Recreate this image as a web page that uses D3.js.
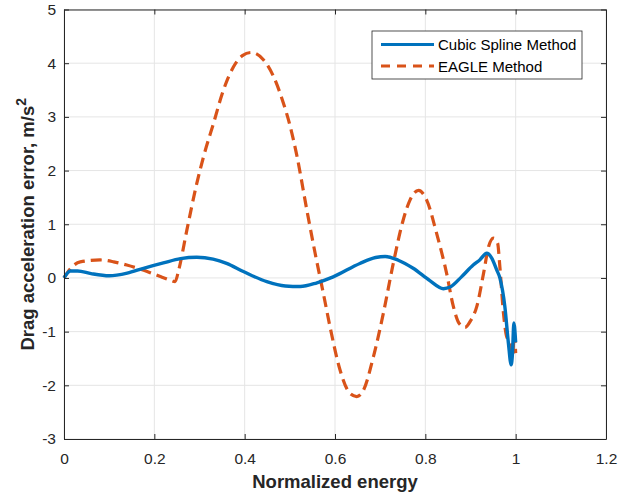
<!DOCTYPE html>
<html>
<head>
<meta charset="utf-8">
<script src="https://cdn.jsdelivr.net/npm/d3@7"></script>
<style>
  body { margin: 0; background: #fff; }
  svg { font-family: "Liberation Sans", Arial, Helvetica, sans-serif; }
</style>
</head>
<body>
<div id="chart"></div>
<script>
'use strict';

const w = 618;
const h = 500;

// Cubic spline method
const splineX = [0, 0.014, 0.03, 0.06, 0.10, 0.14, 0.176, 0.22, 0.258, 0.294, 0.33, 0.36, 0.397, 0.449, 0.49, 0.523,
  0.56, 0.596, 0.655, 0.69, 0.711, 0.74, 0.773, 0.81, 0.84, 0.855, 0.88, 0.906, 0.921, 0.936, 0.947, 0.958, 0.965,
  0.976, 0.984, 0.99, 0.993, 0.996, 1.0];
const splineY = [0, 0.13, 0.13, 0.08, 0.04, 0.09, 0.18, 0.28, 0.36, 0.385, 0.35, 0.27, 0.12, -0.07, -0.15, -0.16,
  -0.09, 0.02, 0.27, 0.38, 0.40, 0.33, 0.18, -0.05, -0.20, -0.17, 0.02, 0.24, 0.34, 0.46, 0.37, 0.15, 0,
  -0.53, -1.22, -1.62, -1.4, -0.84, -1.2];

// EAGLE method
const eagleX = [0, 0.015, 0.036, 0.08, 0.11, 0.139, 0.184, 0.215, 0.235, 0.246, 0.254, 0.272, 0.294, 0.309, 0.331,
  0.353, 0.375, 0.395, 0.415, 0.442, 0.464, 0.486, 0.5, 0.515, 0.538, 0.556, 0.574, 0.589, 0.611, 0.633, 0.648,
  0.663, 0.685, 0.707, 0.729, 0.751, 0.766, 0.785, 0.803, 0.825, 0.847, 0.862, 0.875, 0.888, 0.9, 0.914, 0.929,
  0.94, 0.951, 0.96, 0.965, 0.973, 0.98, 0.989, 0.993, 0.997, 1.0];
const eagleY = [0, 0.18, 0.30, 0.335, 0.30, 0.24, 0.12, 0.02, -0.04, -0.07, 0.15, 0.89, 1.76, 2.26, 2.88,
  3.5, 3.93, 4.14, 4.2, 4.06, 3.75, 3.25, 2.85, 2.3, 1.25, 0.46, -0.28, -0.91, -1.71, -2.15, -2.21,
  -2.09, -1.47, -0.66, 0.27, 1.08, 1.45, 1.63, 1.45, 0.83, 0.09, -0.53, -0.85, -0.92, -0.8, -0.53, 0.09,
  0.58, 0.74, 0.65, 0.21, -0.66, -1.09, -1.22, -1.47, -1.05, -1.4];

const xTicks = [0, 0.2, 0.4, 0.6, 0.8, 1, 1.2];
const yTicks = [-3, -2, -1, 0, 1, 2, 3, 4, 5];
const seriesNames = ["Cubic Spline Method", "EAGLE Method"];

const margin = { left: 64, right: 12, top: 9.5, bottom: 61 };
const axisColor = "#262626";

const svg = d3.select("#chart").append("svg")
  .attr("width", w)
  .attr("height", h);

const x = d3.scaleLinear().domain([0, 1.2]).range([margin.left, w - margin.right]);
const y = d3.scaleLinear().domain([-3, 5]).range([h - margin.bottom, margin.top]);

//Grid lines
const grid = svg.append("g").attr("stroke", "#e5e5e5").attr("stroke-width", 1);
grid.selectAll("line.vx").data(xTicks).enter().append("line")
  .attr("x1", d => x(d)).attr("x2", d => x(d))
  .attr("y1", y(-3)).attr("y2", y(5));
grid.selectAll("line.hy").data(yTicks).enter().append("line")
  .attr("x1", x(0)).attr("x2", x(1.2))
  .attr("y1", d => y(d)).attr("y2", d => y(d));

//Lines
const line = d3.line().x(d => x(d[0])).y(d => y(d[1])).curve(d3.curveMonotoneX);
const splineData = splineX.map((v, i) => [v, splineY[i]]);
const eagleData = eagleX.map((v, i) => [v, eagleY[i]]);

svg.append("path").datum(eagleData)
  .attr("d", line)
  .attr("fill", "none")
  .attr("stroke", "#D95319")
  .attr("stroke-width", 3.2)
  .attr("stroke-dasharray", "11,6");

svg.append("path").datum(splineData)
  .attr("d", line)
  .attr("fill", "none")
  .attr("stroke", "#0072BD")
  .attr("stroke-width", 3.4);

//Axes, ticks inward on all four sides; plain hyphen for negatives like the original
const fmt = d => String(d);
const axBottom = svg.append("g").attr("transform", `translate(0,${y(-3)})`)
  .call(d3.axisBottom(x).tickValues(xTicks).tickSizeInner(-5).tickSizeOuter(0).tickPadding(14).tickFormat(fmt));
const axLeft = svg.append("g").attr("transform", `translate(${x(0)},0)`)
  .call(d3.axisLeft(y).tickValues(yTicks).tickSizeInner(-5).tickSizeOuter(0).tickPadding(8).tickFormat(fmt));
const axTop = svg.append("g").attr("transform", `translate(0,${y(5)})`)
  .call(d3.axisTop(x).tickValues(xTicks).tickSizeInner(-5).tickSizeOuter(0).tickFormat(""));
const axRight = svg.append("g").attr("transform", `translate(${x(1.2)},0)`)
  .call(d3.axisRight(y).tickValues(yTicks).tickSizeInner(-5).tickSizeOuter(0).tickFormat(""));

[axBottom, axLeft, axTop, axRight].forEach(g => {
  g.select(".domain").attr("stroke", axisColor).attr("stroke-width", 1);
  g.selectAll(".tick line").attr("stroke", axisColor);
  g.selectAll(".tick text").attr("fill", axisColor).style("font-size", "15.5px")
    .style("font-family", '"Liberation Sans", Arial, sans-serif');
});

//Axis labels
svg.append("text")
  .attr("x", (x(0) + x(1.2)) / 2)
  .attr("y", 488)
  .attr("text-anchor", "middle")
  .attr("fill", axisColor)
  .style("font-size", "18.5px")
  .style("font-weight", "bold")
  .text("Normalized energy");

const yl = svg.append("text")
  .attr("transform", `translate(33.5,${(y(-3) + y(5)) / 2}) rotate(-90)`)
  .attr("text-anchor", "middle")
  .attr("fill", axisColor)
  .style("font-size", "18.5px")
  .style("font-weight", "bold");
yl.append("tspan").text("Drag acceleration error, m/s");
yl.append("tspan").attr("dy", -8).style("font-size", "14px").text("2");

//Legend
const legend = svg.append("g").attr("transform", "translate(372,31)");
legend.append("rect")
  .attr("width", 210).attr("height", 48)
  .attr("fill", "#fff").attr("stroke", axisColor).attr("stroke-width", 0.8);

const legendItem = legend.selectAll("g.item").data(seriesNames).enter().append("g")
  .attr("transform", (d, i) => `translate(0,${13.5 + i * 21.5})`);

legendItem.append("line")
  .attr("x1", 9).attr("x2", 62)
  .attr("stroke", (d, i) => i === 0 ? "#0072BD" : "#D95319")
  .attr("stroke-width", 3)
  .attr("stroke-dasharray", (d, i) => i === 0 ? null : "9,7");

legendItem.append("text")
  .attr("x", 66).attr("y", 5.5)
  .attr("fill", "#000")
  .style("font-size", "15px")
  .text(d => d);
</script>
</body>
</html>
